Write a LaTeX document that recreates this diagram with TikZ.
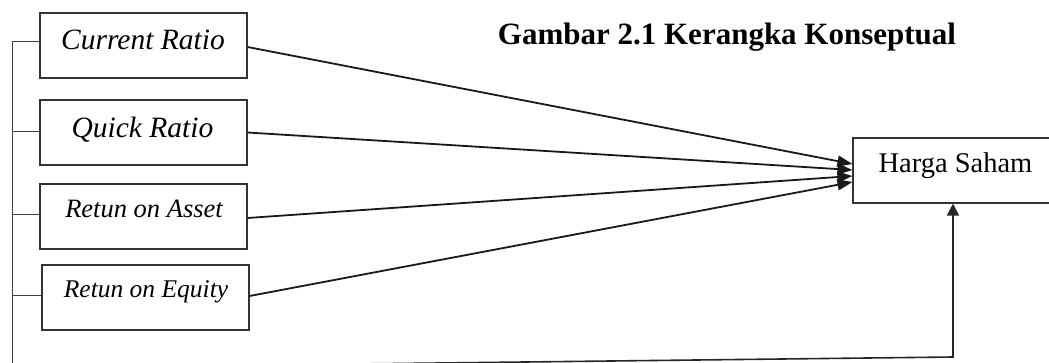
\documentclass[tikz,border=0pt]{standalone}
\usepackage{fontspec}
\setmainfont{Liberation Serif}
\usetikzlibrary{arrows.meta}
\begin{document}
\begin{tikzpicture}[x=1pt,y=-1pt,
  box/.style={draw=black!80,line width=1.1pt,minimum width=207pt,minimum height=65pt,inner sep=0pt},
  lbl/.style={anchor=base,inner sep=0pt},
  conn/.style={draw=black!90,line width=1.8pt,-{Triangle[length=15pt,width=11pt]}},
  bus/.style={draw=black!75,line width=1pt},
  ]
\useasboundingbox (0,0) rectangle (1049,363);
% boxes
\node[box] (b1) at (143.5,45.5) {};
\node[box] (b2) at (143.5,132.5) {};
\node[box] (b3) at (143.5,216.5) {};
\node[box] (b4) at (145.5,297.5) {};
\node[box,minimum width=210pt] (h) at (958,170.5) {};
% labels
\node[lbl,font=\fontsize{29.5}{31}\selectfont\itshape] (t1) at (143,50) {Current Ratio};
\node[lbl,font=\fontsize{29.5}{31}\selectfont\itshape] (t2) at (142.5,138) {Quick Ratio};
\node[lbl,font=\fontsize{26.5}{28}\selectfont\itshape] (t3) at (144,218) {Retun on Asset};
\node[lbl,font=\fontsize{25.5}{27}\selectfont\itshape] (t4) at (146,298) {Retun on Equity};
\node[lbl,font=\fontsize{28.5}{30}\selectfont] (th) at (955.5,173) {Harga Saham};
\node[lbl,font=\fontsize{31}{33}\selectfont\bfseries] (title) at (727,45) {Gambar 2.1 Kerangka Konseptual};
% left bus
\coordinate (top) at (12,42);
\coordinate (bot) at (12,368);
\draw[bus] (top) -- (bot);
\draw[bus] ([yshift=3.5pt]b1.west) -- ([yshift=3.5pt]b1.west -| top);
\draw[bus] ([yshift=0.5pt]b2.west) -- ([yshift=0.5pt]b2.west -| top);
\draw[bus] ([yshift=1.5pt]b3.west) -- ([yshift=1.5pt]b3.west -| top);
\draw[bus] ([yshift=2.5pt]b4.west) -- ([yshift=2.5pt]b4.west -| top);
% connectors
\draw[conn] ([yshift=-1.5pt]b1.east) -- ([yshift=6.5pt]h.west);
\draw[conn] (b2.east) -- ([yshift=0.5pt]h.west);
\draw[conn] ([yshift=-1.5pt]b3.east) -- ([yshift=-5.5pt]h.west);
\draw[conn] ([yshift=1.5pt]b4.east) -- ([yshift=-11.5pt]h.west);
% bottom return line
\coordinate (br) at (953,357);
\draw[draw=black!85,line width=1.6pt,-{Triangle[length=12pt,width=12pt]}] (bot) -- (br) -- (br |- h.south);
\end{tikzpicture}
\end{document}
